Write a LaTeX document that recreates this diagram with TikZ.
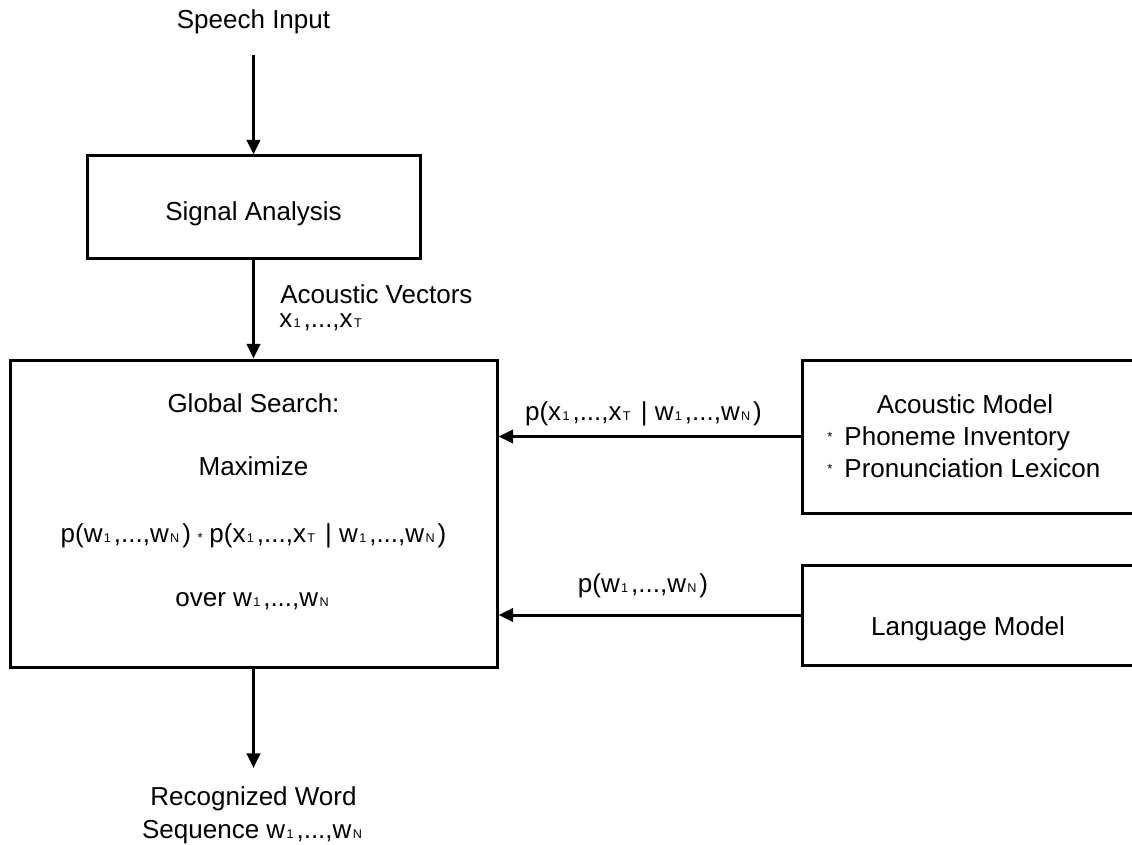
\documentclass[tikz,border=0pt]{standalone}
\usepackage{fontspec}
\setmainfont{Liberation Sans}
\usetikzlibrary{arrows.meta}
\newcommand\sbs[1]{\kern1pt{\fontsize{9.5}{9.5}\selectfont #1}\kern2.2pt\relax}
\newcommand\mulast{{\fontsize{10}{10}\selectfont *}}
\newcommand\bul{\raisebox{2.5pt}{\fontsize{10}{10}\selectfont *}\hspace{9pt}}
\tikzset{
  box/.style={draw, line width=2.25pt, inner sep=0pt},
  arr/.style={line width=2.25pt, -{Triangle[length=11pt,width=10pt]}},
  txt/.style={inner sep=0pt, anchor=base, font=\fontsize{19.5}{22}\selectfont},
  txtl/.style={txt, anchor=base west}
}
\begin{document}
\begin{tikzpicture}[x=0.75pt,y=-0.75pt]
\useasboundingbox (0,0) rectangle (1132,845);
% boxes
\node[box, minimum width=249.75pt, minimum height=76.5pt] (sa) at (253.5,207) {};
\node[box, minimum width=365.25pt, minimum height=230.25pt] (gs) at (253.5,513.5) {};
\node[box, minimum width=268.5pt, minimum height=114.75pt] (am) at (981,436.5) {};
\node[box, minimum width=268.5pt, minimum height=75pt] (lm) at (981,615) {};
% texts
\node[txt] (tsi) at (253.5,29) {Speech Input};
\node[txt] (tsa) at (253.5,220) {Signal Analysis};
\node[txtl] (tav) at (280,303) {Acoustic Vectors};
\node[txtl] (txv) at (279,327) {x\sbs{1},...,x\sbs{T}};
\node[txt] (tg1) at (253.5,412) {Global Search:};
\node[txt] (tg2) at (253.5,475) {Maximize};
\node[txt] (tg3) at (253.5,542) {p(w\sbs{1},...,w\sbs{N})\hspace{5pt}\mulast\hspace{5pt}p(x\sbs{1},...,x\sbs{T} | w\sbs{1},...,w\sbs{N})};
\node[txt] (tg4) at (253.5,606) {over w\sbs{1},...,w\sbs{N}};
\node[txt] (tl1) at (643.5,420) {p(x\sbs{1},...,x\sbs{T} | w\sbs{1},...,w\sbs{N})};
\node[txt] (tl2) at (643,592) {p(w\sbs{1},...,w\sbs{N})};
\node[txt] (tam) at (965,413) {Acoustic Model};
\node[txtl] (tp1) at (827,445) {\bul Phoneme Inventory};
\node[txtl] (tp2) at (827,477) {\bul Pronunciation Lexicon};
\node[txt] (tlm) at (968,635) {Language Model};
\node[txt] (tr1) at (253.5,805) {Recognized Word};
\node[txt] (tr2) at (253.5,838) {Sequence w\sbs{1},...,w\sbs{N}};
% connectors
\coordinate (cin) at (253.5,55);
\coordinate (cout) at (253.5,768);
\draw[arr] (cin) -- (sa.north);
\draw[arr] (sa.south) -- (gs.north);
\draw[arr] (am.west) -- (am.west -| gs.east);
\draw[arr] (lm.west) -- (lm.west -| gs.east);
\draw[arr] (gs.south) -- (cout);
\end{tikzpicture}
\end{document}
